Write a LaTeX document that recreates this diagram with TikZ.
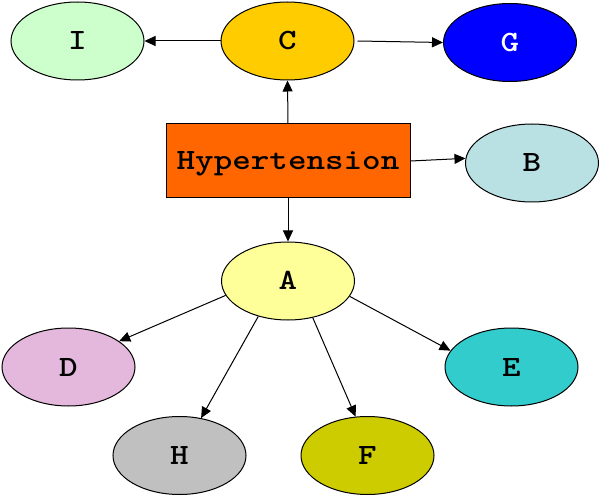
\documentclass[tikz,border=0pt]{standalone}
\usetikzlibrary{shapes.geometric,arrows.meta}
\definecolor{cI}{HTML}{CCFFCC}
\definecolor{cC}{HTML}{FFCC00}
\definecolor{cG}{HTML}{0000FF}
\definecolor{cHyp}{HTML}{FF6600}
\definecolor{cB}{HTML}{B9E0E3}
\definecolor{cA}{HTML}{FFFF99}
\definecolor{cD}{HTML}{E4B8DC}
\definecolor{cE}{HTML}{33CCCC}
\definecolor{cH}{HTML}{C0C0C0}
\definecolor{cF}{HTML}{CCCC00}
\newcommand{\mytxt}[1]{\scalebox{1.14}[0.95]{\ttfamily\bfseries\fontsize{31}{31}\selectfont #1}}
\begin{document}
\begin{tikzpicture}[x=1pt,y=-1pt,
  lbl/.style={text height=18pt, text depth=0pt, inner sep=0pt},
  oval/.style={lbl, ellipse, draw=black, line width=1pt, minimum width=133pt, minimum height=78pt},
  hbox/.style={lbl, rectangle, draw=black, line width=1pt, minimum width=244pt, minimum height=74pt},
  conn/.style={line width=1pt, -{Triangle[length=11pt,width=10pt]}}]
\useasboundingbox (0,0) rectangle (600,497);
\node[oval, fill=cI] (I) at (77.5,41) {\mytxt{I}};
\node[oval, fill=cC] (C) at (287.5,41) {\mytxt{C}};
\node[oval, fill=cG, text=white] (G) at (510,42.5) {\mytxt{G}};
\node[hbox, fill=cHyp] (Hyp) at (288,161) {\mytxt{Hypertension}};
\node[oval, fill=cB] (B) at (532,163) {\mytxt{B}};
\node[oval, fill=cA] (A) at (288,281) {\mytxt{A}};
\node[oval, fill=cD] (D) at (68.5,367) {\mytxt{D}};
\node[oval, fill=cE] (E) at (511.5,367) {\mytxt{E}};
\node[oval, fill=cH] (H) at (179.5,455.5) {\mytxt{H}};
\node[oval, fill=cF] (F) at (367.5,455.5) {\mytxt{F}};
\draw[conn] (C.west) -- (I.east);
\draw[conn] ([xshift=3pt]C.east) -- (G.west);
\draw[conn] (Hyp.north) -- (C.south);
\draw[conn] (Hyp.east) -- (B.176);
\draw[conn] (Hyp.south) -- (A.north);
\draw[conn] (A.193) -- (D.27);
\draw[conn] (A.230) -- (H.60);
\draw[conn] (A.304) -- (F.107);
\draw[conn] (A.346) -- (E.165);
\end{tikzpicture}
\end{document}
